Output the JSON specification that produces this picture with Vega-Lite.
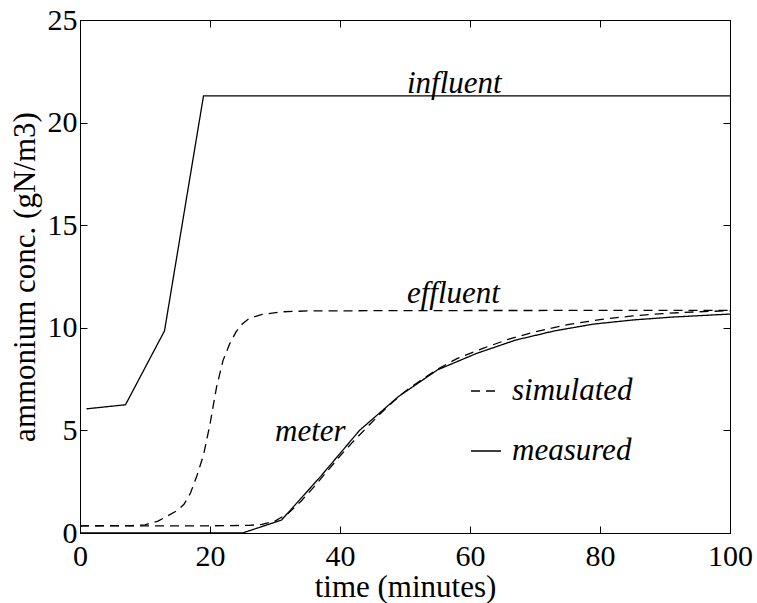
{
  "$schema": "https://vega.github.io/schema/vega-lite/v6.json",
  "width": 650,
  "height": 513,
  "autosize": "none",
  "padding": {"left": 80, "top": 20, "right": 27, "bottom": 70},
  "background": "white",
  "config": {
    "view": {"stroke": "black", "strokeWidth": 1},
    "font": "Liberation Serif",
    "axis": {
      "domainColor": "black", "domainWidth": 1, "tickColor": "black", "tickWidth": 1,
      "tickSize": -7, "grid": false, "labelColor": "black", "labelFontSize": 30,
      "labelFont": "Liberation Serif", "titleFont": "Liberation Serif", "titleFontSize": 31,
      "titleFontWeight": "normal", "titleColor": "black", "labelFlush": false, "labelOverlap": false
    },
    "legend": {
      "labelFont": "Liberation Serif", "labelFontSize": 31, "labelFontStyle": "italic", "labelColor": "black"
    }
  },
  "datasets": {
    "lines": [
      {"series": "influent", "type": "measured", "t": 1, "v": 6.05},
      {"series": "influent", "type": "measured", "t": 7, "v": 6.25},
      {"series": "influent", "type": "measured", "t": 13, "v": 9.85},
      {"series": "influent", "type": "measured", "t": 19, "v": 21.3},
      {"series": "influent", "type": "measured", "t": 100, "v": 21.3},
      {"series": "effluent", "type": "simulated", "t": 0, "v": 0.35},
      {"series": "effluent", "type": "simulated", "t": 8, "v": 0.36},
      {"series": "effluent", "type": "simulated", "t": 10, "v": 0.4},
      {"series": "effluent", "type": "simulated", "t": 12, "v": 0.58},
      {"series": "effluent", "type": "simulated", "t": 13.3, "v": 0.8},
      {"series": "effluent", "type": "simulated", "t": 15, "v": 1.1},
      {"series": "effluent", "type": "simulated", "t": 16, "v": 1.4},
      {"series": "effluent", "type": "simulated", "t": 17, "v": 1.95},
      {"series": "effluent", "type": "simulated", "t": 18, "v": 2.8},
      {"series": "effluent", "type": "simulated", "t": 19, "v": 3.8},
      {"series": "effluent", "type": "simulated", "t": 20, "v": 5.3},
      {"series": "effluent", "type": "simulated", "t": 21, "v": 7.1},
      {"series": "effluent", "type": "simulated", "t": 22, "v": 8.4},
      {"series": "effluent", "type": "simulated", "t": 23, "v": 9.2},
      {"series": "effluent", "type": "simulated", "t": 24, "v": 9.8},
      {"series": "effluent", "type": "simulated", "t": 25, "v": 10.2},
      {"series": "effluent", "type": "simulated", "t": 26, "v": 10.45},
      {"series": "effluent", "type": "simulated", "t": 28, "v": 10.65},
      {"series": "effluent", "type": "simulated", "t": 31, "v": 10.78},
      {"series": "effluent", "type": "simulated", "t": 35, "v": 10.82},
      {"series": "effluent", "type": "simulated", "t": 50, "v": 10.84},
      {"series": "effluent", "type": "simulated", "t": 100, "v": 10.85},
      {"series": "meter_sim", "type": "simulated", "t": 0, "v": 0.35},
      {"series": "meter_sim", "type": "simulated", "t": 20, "v": 0.35},
      {"series": "meter_sim", "type": "simulated", "t": 26, "v": 0.37},
      {"series": "meter_sim", "type": "simulated", "t": 28, "v": 0.42},
      {"series": "meter_sim", "type": "simulated", "t": 30, "v": 0.58},
      {"series": "meter_sim", "type": "simulated", "t": 32, "v": 0.95},
      {"series": "meter_sim", "type": "simulated", "t": 34, "v": 1.55},
      {"series": "meter_sim", "type": "simulated", "t": 36, "v": 2.25},
      {"series": "meter_sim", "type": "simulated", "t": 38, "v": 3.0},
      {"series": "meter_sim", "type": "simulated", "t": 40, "v": 3.75},
      {"series": "meter_sim", "type": "simulated", "t": 42, "v": 4.45},
      {"series": "meter_sim", "type": "simulated", "t": 44, "v": 5.1},
      {"series": "meter_sim", "type": "simulated", "t": 46, "v": 5.75},
      {"series": "meter_sim", "type": "simulated", "t": 48, "v": 6.35},
      {"series": "meter_sim", "type": "simulated", "t": 50, "v": 6.9},
      {"series": "meter_sim", "type": "simulated", "t": 52, "v": 7.35},
      {"series": "meter_sim", "type": "simulated", "t": 55, "v": 7.98},
      {"series": "meter_sim", "type": "simulated", "t": 58, "v": 8.5},
      {"series": "meter_sim", "type": "simulated", "t": 62, "v": 9.0},
      {"series": "meter_sim", "type": "simulated", "t": 66, "v": 9.45},
      {"series": "meter_sim", "type": "simulated", "t": 70, "v": 9.8},
      {"series": "meter_sim", "type": "simulated", "t": 75, "v": 10.15},
      {"series": "meter_sim", "type": "simulated", "t": 80, "v": 10.4},
      {"series": "meter_sim", "type": "simulated", "t": 85, "v": 10.58},
      {"series": "meter_sim", "type": "simulated", "t": 90, "v": 10.7},
      {"series": "meter_sim", "type": "simulated", "t": 95, "v": 10.78},
      {"series": "meter_sim", "type": "simulated", "t": 100, "v": 10.83},
      {"series": "meter_meas", "type": "measured", "t": 0, "v": 0},
      {"series": "meter_meas", "type": "measured", "t": 25, "v": 0},
      {"series": "meter_meas", "type": "measured", "t": 31, "v": 0.63},
      {"series": "meter_meas", "type": "measured", "t": 37, "v": 2.75},
      {"series": "meter_meas", "type": "measured", "t": 43, "v": 5.0},
      {"series": "meter_meas", "type": "measured", "t": 49, "v": 6.65},
      {"series": "meter_meas", "type": "measured", "t": 55, "v": 7.95},
      {"series": "meter_meas", "type": "measured", "t": 61, "v": 8.75},
      {"series": "meter_meas", "type": "measured", "t": 67, "v": 9.4},
      {"series": "meter_meas", "type": "measured", "t": 73, "v": 9.85},
      {"series": "meter_meas", "type": "measured", "t": 79, "v": 10.18},
      {"series": "meter_meas", "type": "measured", "t": 85, "v": 10.38},
      {"series": "meter_meas", "type": "measured", "t": 91, "v": 10.52},
      {"series": "meter_meas", "type": "measured", "t": 100, "v": 10.67}
    ],
    "labels": [
      {"label": "influent", "t": 50.3, "v": 21.46},
      {"label": "effluent", "t": 50.3, "v": 11.19},
      {"label": "meter", "t": 30, "v": 4.5}
    ]
  },
  "layer": [
    {
      "data": {"name": "lines"},
      "mark": {"type": "line", "color": "black", "strokeWidth": 1.3, "clip": true},
      "encoding": {
        "x": {"field": "t", "type": "quantitative", "scale": {"domain": [0, 100], "nice": false},
              "axis": {"orient": "bottom", "values": [0, 20, 40, 60, 80, 100], "title": "time (minutes)", "labelPadding": 15, "titlePadding": 1}},
        "y": {"field": "v", "type": "quantitative", "scale": {"domain": [0, 25], "nice": false},
              "axis": {"orient": "left", "values": [0, 5, 10, 15, 20, 25], "title": "ammonium conc. (gN/m3)", "labelPadding": 10, "titlePadding": 6}},
        "detail": {"field": "series"},
        "strokeDash": {"field": "type", "type": "nominal",
          "scale": {"domain": ["simulated", "measured"], "range": [[9, 6], [1, 0]]},
          "legend": {"title": null, "orient": "none", "legendX": 390, "legendY": 355, "padding": 0,
                     "symbolType": "stroke", "symbolSize": 900, "symbolStrokeColor": "black", "symbolStrokeWidth": 1.3,
                     "labelOffset": 10, "rowPadding": 29}}
      }
    },
    {
      "data": {"name": "lines"},
      "mark": {"type": "point", "opacity": 0},
      "encoding": {
        "x": {"field": "t", "type": "quantitative", "axis": {"orient": "top", "values": [0, 20, 40, 60, 80, 100], "labels": false, "title": null}},
        "y": {"field": "v", "type": "quantitative", "axis": {"orient": "right", "values": [0, 5, 10, 15, 20, 25], "labels": false, "title": null}}
      }
    },
    {
      "data": {"name": "labels"},
      "mark": {"type": "text", "fontStyle": "italic", "fontSize": 31, "align": "left", "baseline": "alphabetic", "color": "black", "font": "Liberation Serif"},
      "encoding": {
        "x": {"field": "t", "type": "quantitative", "axis": null},
        "y": {"field": "v", "type": "quantitative", "axis": null},
        "text": {"field": "label"}
      }
    }
  ],
  "resolve": {"axis": {"x": "independent", "y": "independent"}}
}
